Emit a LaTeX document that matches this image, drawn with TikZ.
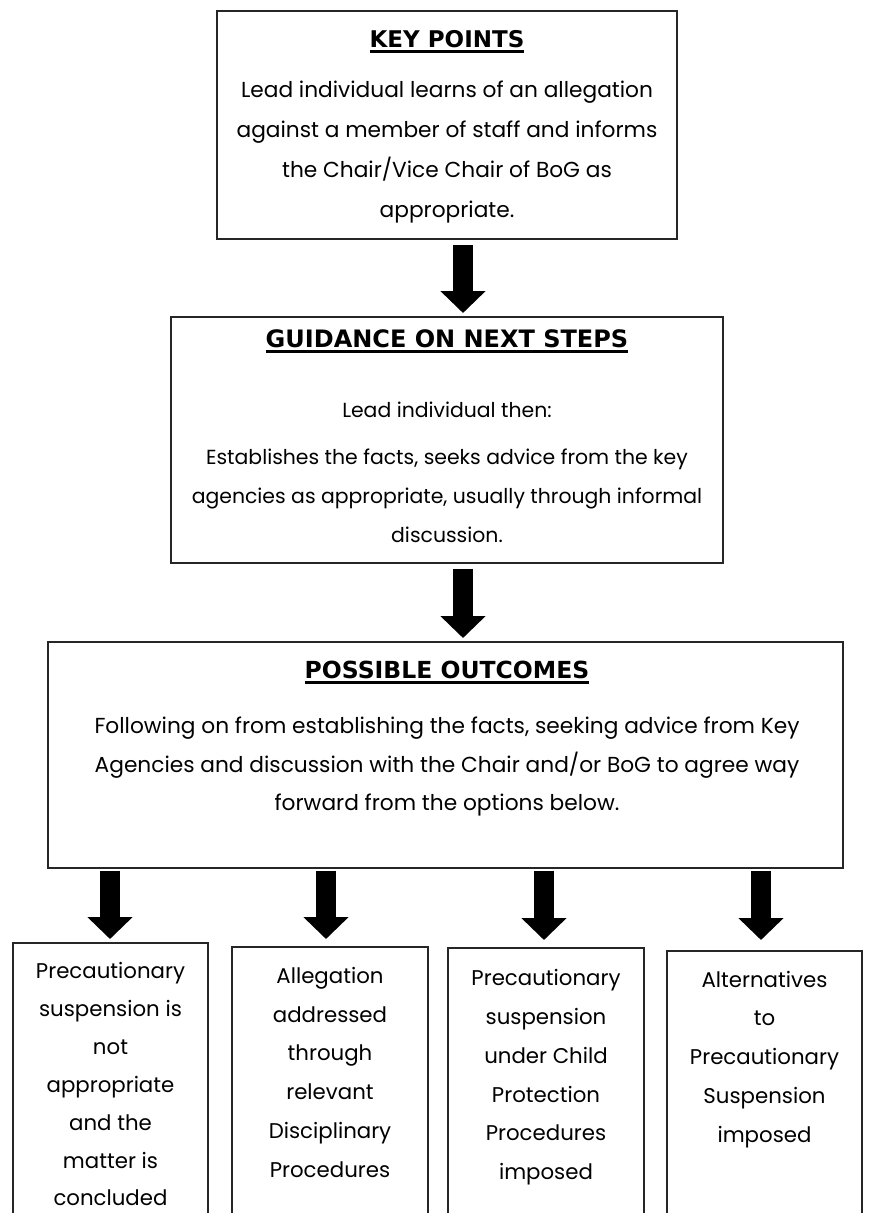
\documentclass[tikz,border=0pt]{standalone}
\usepackage{fontspec}
\setmainfont{Poppins}
\newfontfamily\titlefont{DejaVu Sans}
\usetikzlibrary{arrows.meta}
\newcommand\ttlul[1]{\setbox0\hbox{#1}\rlap{\rule[-6pt]{\wd0}{3pt}}\box0}
\tikzset{
  box/.style={draw=black!85, line width=1.4pt, inner sep=0pt},
  body/.style={font=\fontsize{21.7}{21.7}\selectfont, anchor=base, inner sep=0pt},
  bodyb/.style={font=\fontsize{20.4}{20.4}\selectfont, anchor=base, inner sep=0pt},
  bodys/.style={font=\fontsize{21.3}{21.3}\selectfont, anchor=base, inner sep=0pt},
  ttl/.style={font=\titlefont\bfseries\fontsize{23}{23}\selectfont, anchor=base, inner sep=0pt},
  blockarrow/.style={line width=20pt, -{Triangle[width=44pt,length=22pt]}, black},
}
\begin{document}
\begin{tikzpicture}[x=1pt,y=-1pt]
\useasboundingbox (0,0) rectangle (868,1213);
\clip (0,0) rectangle (868,1213);
% boxes
\node[box, minimum width=460, minimum height=228] (kp) at (447,125) {};
\node[box, minimum width=552, minimum height=246] (gn) at (447,440) {};
\node[box, minimum width=795, minimum height=226] (po) at (445.5,755) {};
\node[box, minimum width=195, minimum height=282] (oa) at (110.5,1084) {};
\node[box, minimum width=196, minimum height=278] (ob) at (330,1086) {};
\node[box, minimum width=196, minimum height=277] (oc) at (546,1086.5) {};
\node[box, minimum width=195, minimum height=274] (od) at (764.5,1088) {};
% texts box 1
\node[ttl] (kpt) at (447,47) {\ttlul{KEY POINTS}};
\node[body] (kp1) at (447,97) {Lead individual learns of an allegation};
\node[body] (kp2) at (447,137) {against a member of staff and informs};
\node[body] (kp3) at (447,177) {the Chair/Vice Chair of BoG as};
\node[body] (kp4) at (447,217) {appropriate.};
% texts box 2
\node[ttl, font=\titlefont\bfseries\fontsize{24}{24}\selectfont] (gnt) at (447,347) {\ttlul{GUIDANCE ON NEXT STEPS}};
\node[bodyb] (gn1) at (447,417) {Lead individual then:};
\node[bodyb] (gn2) at (447,464) {Establishes the facts, seeks advice from the key};
\node[bodyb] (gn3) at (447,503) {agencies as appropriate, usually through informal};
\node[bodyb] (gn4) at (447,542) {discussion.};
% texts box 3
\node[ttl, font=\titlefont\bfseries\fontsize{23.5}{23.5}\selectfont] (pot) at (447,678) {\ttlul{POSSIBLE OUTCOMES}};
\node[body] (po1) at (447,733) {Following on from establishing the facts, seeking advice from Key};
\node[body] (po2) at (447,772) {Agencies and discussion with the Chair and/or BoG to agree way};
\node[body] (po3) at (447,810) {forward from the options below.};
% outcome a
\node[bodys] (a1) at (110.5,978) {Precautionary};
\node[bodys] (a2) at (110.5,1016) {suspension is};
\node[bodys] (a3) at (110.5,1054) {not};
\node[bodys] (a4) at (110.5,1092) {appropriate};
\node[bodys] (a5) at (110.5,1130) {and the};
\node[bodys] (a6) at (110.5,1168) {matter is};
\node[bodys] (a7) at (110.5,1205) {concluded};
% outcome b
\node[bodys] (b1) at (330,983) {Allegation};
\node[bodys] (b2) at (330,1022) {addressed};
\node[bodys] (b3) at (330,1060) {through};
\node[bodys] (b4) at (330,1099) {relevant};
\node[bodys] (b5) at (330,1138) {Disciplinary};
\node[bodys] (b6) at (330,1177) {Procedures};
% outcome c
\node[bodys] (c1) at (546,985) {Precautionary};
\node[bodys] (c2) at (546,1024) {suspension};
\node[bodys] (c3) at (546,1063) {under Child};
\node[bodys] (c4) at (546,1102) {Protection};
\node[bodys] (c5) at (546,1140) {Procedures};
\node[bodys] (c6) at (546,1179) {imposed};
% outcome d
\node[bodys] (d1) at (764.5,987) {Alternatives};
\node[bodys] (d2) at (764.5,1025) {to};
\node[bodys] (d3) at (764.5,1064) {Precautionary};
\node[bodys] (d4) at (764.5,1103) {Suspension};
\node[bodys] (d5) at (764.5,1142) {imposed};
% arrow targets
\coordinate (t1) at (463,313);
\coordinate (t2) at (463,638);
\coordinate (ta) at (110,939);
\coordinate (tb) at (326,939);
\coordinate (tc) at (544,940);
\coordinate (td) at (761,940);
\draw[blockarrow, shorten <=5pt] (kp.south -| t1) -- (t1);
\draw[blockarrow, shorten <=5pt] (gn.south -| t2) -- (t2);
\draw[blockarrow, shorten <=2pt] (po.south -| ta) -- (ta);
\draw[blockarrow, shorten <=2pt] (po.south -| tb) -- (tb);
\draw[blockarrow, shorten <=2pt] (po.south -| tc) -- (tc);
\draw[blockarrow, shorten <=2pt] (po.south -| td) -- (td);
\end{tikzpicture}
\end{document}
